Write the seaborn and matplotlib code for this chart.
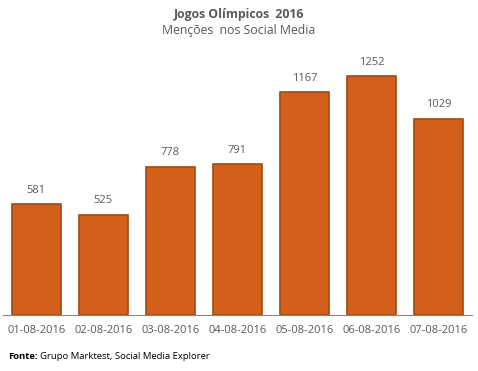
import matplotlib
matplotlib.use("Agg")
import matplotlib.pyplot as plt
import seaborn as sns
import pandas as pd
import numpy as np

# data
dates = ["01-08-2016", "02-08-2016", "03-08-2016", "04-08-2016",
         "05-08-2016", "06-08-2016", "07-08-2016"]
mentions = [581, 525, 778, 791, 1167, 1252, 1029]

df = pd.DataFrame({"Data": dates, "Mencoes": mentions})

sns.set_style("white")
plt.rcParams["font.family"] = ["Open Sans", "DejaVu Sans"]

fig = plt.figure(figsize=(4.78, 3.71), dpi=100)
ax = fig.add_axes([0.006, 0.151, 0.981, 0.72])

sns.barplot(data=df, x="Data", y="Mencoes", color="#D2601A", width=0.73,
            saturation=1, edgecolor="#A9480F", linewidth=1.2, ax=ax)

# labels above the bars
for container in ax.containers:
    ax.bar_label(container, labels=[str(v) for v in mentions], padding=6,
                 fontsize=8, color="#595959")

ax.set_ylim(0, 1400)
ax.set_xlim(-0.5, len(dates) - 0.5)
ax.set_xlabel("")
ax.set_ylabel("")
ax.set_yticks([])
ax.tick_params(axis="x", which="major", length=0, labelsize=8,
               labelcolor="#595959", pad=7)
ax.set_xticks(np.arange(-0.5, len(dates), 1), minor=True)
ax.tick_params(axis="x", which="minor", length=5, color="#888888", width=1)

for s in ["top", "right", "left"]:
    ax.spines[s].set_visible(False)
ax.spines["bottom"].set_color("#888888")

fig.text(0.5, 0.962, "Jogos Olímpicos  2016", ha="center", va="center",
         fontsize=8.8, fontweight="bold", color="#595959")
fig.text(0.5, 0.918, "Menções  nos Social Media", ha="center", va="center",
         fontsize=8.8, color="#595959")

fig.text(0.017, 0.038, "Fonte:", ha="left", va="center", fontsize=6.8,
         fontweight="bold", color="black")
fig.text(0.083, 0.038, "Grupo Marktest, Social Media Explorer", ha="left",
         va="center", fontsize=6.8, color="black")

fig.savefig("out.png", dpi=100)
